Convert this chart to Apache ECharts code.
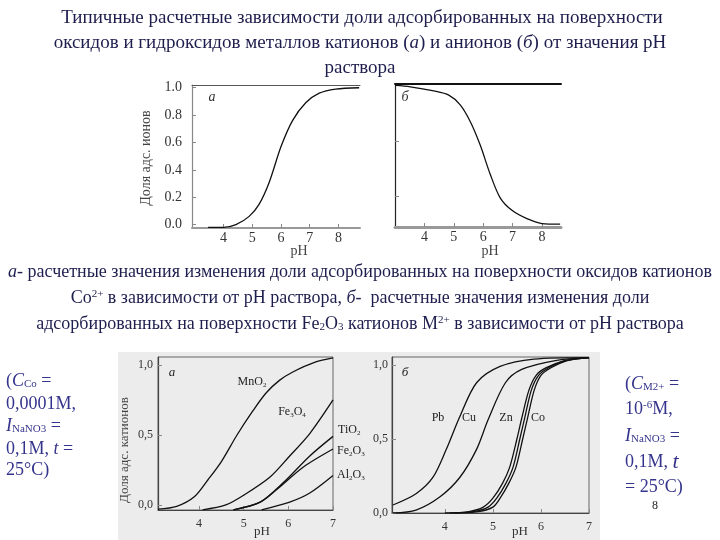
<!DOCTYPE html>
<html><head><meta charset="utf-8">
<script src="https://cdn.jsdelivr.net/npm/echarts@6/dist/echarts.min.js"></script>
<style>html,body{margin:0;padding:0;background:#fff}#c{width:720px;height:540px}</style>
</head><body><div id="c"></div>
<script>
// ---- data ----
const xTicksTop = [4, 5, 6, 7, 8];
const yTicksTop = [0, 0.2, 0.4, 0.6, 0.8, 1.0];
const xTicksBot = [4, 5, 6, 7];
const yTicksBot = [0, 0.5, 1.0];

const aPH   = [3.46, 4.0, 4.43, 4.89, 5.24, 5.59, 6.0, 6.4, 6.86, 7.33, 7.9, 8.72];
const aFrac = [-0.02, -0.02, 0.0, 0.06, 0.15, 0.31, 0.57, 0.76, 0.89, 0.96, 0.99, 1.0];

const bPH   = [3.01, 3.52, 4.32, 4.83, 5.22, 5.56, 5.9, 6.24, 6.58, 6.98, 7.49, 8.0, 8.62];
const bFrac = [1.0, 0.99, 0.96, 0.93, 0.86, 0.74, 0.57, 0.36, 0.19, 0.10, 0.04, 0.005, 0.0];

const mno2PH   = [3.08, 3.5, 3.9, 4.2, 4.5, 4.85, 5.2, 5.5, 5.8, 6.1, 6.6, 7.0];
const mno2Frac = [-0.03, -0.01, 0.06, 0.18, 0.31, 0.50, 0.67, 0.80, 0.89, 0.95, 1.02, 1.05];
const fe3o4PH   = [4.08, 4.6, 5.0, 5.59, 6.03, 6.48, 7.0];
const fe3o4Frac = [-0.035, 0.0, 0.07, 0.20, 0.35, 0.51, 0.75];
const tio2PH   = [4.77, 5.37, 5.89, 6.48, 7.0];
const tio2Frac = [-0.035, 0.02, 0.16, 0.35, 0.49];
const fe2o3PH   = [4.77, 5.37, 5.74, 6.33, 7.0];
const fe2o3Frac = [-0.035, 0.02, 0.11, 0.27, 0.40];
const al2o3PH   = [5.4, 6.03, 6.48, 7.0];
const al2o3Frac = [-0.035, 0.02, 0.085, 0.21];

const pbPH   = [2.92, 3.4, 3.75, 4.03, 4.31, 4.66, 5.15, 5.85, 7.0];
const pbFrac = [0.054, 0.13, 0.24, 0.43, 0.65, 0.88, 0.99, 1.04, 1.05];
const cuPH   = [2.92, 3.4, 3.9, 4.31, 4.66, 4.9, 5.26, 5.6, 6.3, 7.0];
const cuFrac = [0.0, 0.02, 0.11, 0.24, 0.43, 0.63, 0.88, 0.97, 1.03, 1.05];
const znPH   = [4.0, 4.5, 4.8, 5.0, 5.2, 5.35, 5.5, 5.6, 5.75, 5.9, 6.1, 6.5, 7.0];
const znFrac = [0.0, 0.01, 0.04, 0.10, 0.20, 0.31, 0.50, 0.64, 0.83, 0.93, 0.98, 1.03, 1.05];
const midPH  = [4.1, 4.6, 4.9, 5.08, 5.27, 5.42, 5.56, 5.66, 5.8, 5.95, 6.15, 6.5, 7.0];
const midFrac= [0.0, 0.01, 0.04, 0.10, 0.20, 0.31, 0.50, 0.64, 0.83, 0.93, 0.98, 1.03, 1.05];
const coPH   = [4.2, 4.7, 5.0, 5.15, 5.33, 5.48, 5.62, 5.72, 5.86, 6.0, 6.2, 6.55, 7.0];
const coFrac = [0.0, 0.01, 0.04, 0.10, 0.20, 0.31, 0.50, 0.64, 0.83, 0.93, 0.98, 1.03, 1.05];

// ---- helpers ----
const zip = (xs, ys) => xs.map((x, i) => [x, ys[i]]);
const SERIF = '"Liberation Serif", "Times New Roman", serif';
const NAVY = '#1e1e4e';
const BLUE = '#34348c';

function line(name, xs, ys, gi, w) {
  return { name, type: 'line', xAxisIndex: gi, yAxisIndex: gi, data: zip(xs, ys),
    smooth: 0.3, showSymbol: false, silent: true,
    lineStyle: { color: '#111', width: w || 1.3 }, clip: true };
}
function xAx(gi, min, max, ticks, fs, margin, lineColor, lw) {
  return { type: 'value', gridIndex: gi, min, max,
    axisLine: { show: true, onZero: false, lineStyle: { color: lineColor, width: lw } },
    axisTick: { show: true, inside: true, length: 4, customValues: ticks, lineStyle: { color: '#888' } },
    axisLabel: { customValues: ticks, fontFamily: SERIF, fontSize: fs, color: '#333', margin },
    splitLine: { show: false } };
}
function topAx(gi, min, max, color, w) {
  return { type: 'value', gridIndex: gi, position: 'top', min, max,
    axisLine: { show: true, onZero: false, lineStyle: { color, width: w } },
    axisTick: { show: false }, axisLabel: { show: false }, splitLine: { show: false } };
}
function yAx(gi, min, max, ticks, fs, margin, fmt, lineColor, show) {
  return { type: 'value', gridIndex: gi, min, max,
    axisLine: { show: true, onZero: false, lineStyle: { color: lineColor, width: 1.2 } },
    axisTick: { show: true, inside: true, length: 4, customValues: ticks, lineStyle: { color: '#888' } },
    axisLabel: { show: show, customValues: ticks, fontFamily: SERIF, fontSize: fs, color: '#333', margin, formatter: fmt },
    splitLine: { show: false } };
}
function txt(x, y, text, opts) {
  return Object.assign({ type: 'text', x, y, silent: true,
    style: Object.assign({ text, fontFamily: SERIF, fontSize: 12, fill: '#222',
      align: 'left', verticalAlign: 'middle' }, opts || {}) });
}
const richBase = (fs, color) => ({
  i: { fontStyle: 'italic', fontFamily: SERIF, fontSize: fs, fill: color },
  sub: { fontFamily: SERIF, fontSize: Math.round(fs * 0.62), fill: color, verticalAlign: 'bottom', padding: [6, 0, 0, 0] },
  sup: { fontFamily: SERIF, fontSize: Math.round(fs * 0.62), fill: color, verticalAlign: 'top', padding: [0, 0, 6, 0] },
  bi: { fontStyle: 'italic', fontFamily: SERIF, fontSize: fs + 4, fill: color }
});

const chart = echarts.init(document.getElementById('c'));
const option = {
  animation: false,
  backgroundColor: '#ffffff',
  grid: [
    { left: 192, top: 85, width: 168, height: 143 },
    { left: 395, top: 84, width: 166, height: 143 },
    { left: 158, top: 357, width: 175, height: 153, show: true, borderColor: '#666', borderWidth: 1, backgroundColor: 'transparent' },
    { left: 392, top: 357, width: 197, height: 156, show: true, borderColor: '#666', borderWidth: 1, backgroundColor: 'transparent' }
  ],
  xAxis: [
    xAx(0, 2.9, 8.75, xTicksTop, 14, 3, '#999', 2),
    xAx(1, 3.0, 8.65, xTicksTop, 14, 3, '#999', 3),
    xAx(2, 3.08, 7.0, xTicksBot, 12, 8, '#444', 1),
    xAx(3, 2.9, 7.0, xTicksBot, 12, 8, '#444', 1),
    topAx(0, 2.9, 8.75, '#555', 1),
    topAx(1, 3.0, 8.65, '#111', 2)
  ],
  yAxis: [
    yAx(0, -0.025, 1.02, yTicksTop, 14, 10, v => v.toFixed(1), '#888', true),
    yAx(1, -0.02, 1.01, [0.2, 0.6], 14, 10, v => v.toFixed(1), '#222', false),
    yAx(2, -0.036, 1.057, yTicksBot, 12, 5, v => v.toFixed(1).replace('.', ','), '#444', true),
    yAx(3, 0, 1.054, yTicksBot, 12, 4, v => v.toFixed(1).replace('.', ','), '#444', true)
  ],
  series: [
    line('a', aPH, aFrac, 0),
    line('b', bPH, bFrac, 1),
    line('MnO2', mno2PH, mno2Frac, 2),
    line('Fe3O4', fe3o4PH, fe3o4Frac, 2),
    line('TiO2', tio2PH, tio2Frac, 2),
    line('Fe2O3', fe2o3PH, fe2o3Frac, 2),
    line('Al2O3', al2o3PH, al2o3Frac, 2),
    line('Pb', pbPH, pbFrac, 3),
    line('Cu', cuPH, cuFrac, 3),
    line('Zn', znPH, znFrac, 3),
    line('M', midPH, midFrac, 3),
    line('Co', coPH, coFrac, 3)
  ],
  graphic: [
    { type: 'rect', z: -10, silent: true, shape: { x: 118, y: 352, width: 482, height: 188 }, style: { fill: '#ececec' } },
    // title
    txt(362, 18, 'Типичные расчетные зависимости доли адсорбированных на поверхности', { align: 'center', fontSize: 19, fill: NAVY }),
    txt(360, 43, 'оксидов и гидроксидов металлов катионов ({i|а}) и анионов ({i|б}) от значения pH', { align: 'center', fontSize: 19, fill: NAVY, rich: richBase(19, NAVY) }),
    txt(360, 68, 'раствора', { align: 'center', fontSize: 19, fill: NAVY }),
    // caption
    txt(360, 272, '{i|а}- расчетные значения изменения доли адсорбированных на поверхности оксидов катионов', { align: 'center', fontSize: 18, fill: NAVY, rich: richBase(18, NAVY) }),
    txt(360, 298, 'Co{sup|2+} в зависимости от pH раствора, {i|б}-  расчетные значения изменения доли', { align: 'center', fontSize: 18, fill: NAVY, rich: richBase(18, NAVY) }),
    txt(360, 324, 'адсорбированных на поверхности Fe{sub|2}O{sub|3} катионов M{sup|2+} в зависимости от pH раствора', { align: 'center', fontSize: 18, fill: NAVY, rich: richBase(18, NAVY) }),
    // left notes
    txt(6, 381, '({i|C}{sub|Co} =', { fontSize: 18, fill: BLUE, rich: richBase(18, BLUE) }),
    txt(6, 404, '0,0001M,', { fontSize: 18, fill: BLUE }),
    txt(6, 426, '{i|I}{sub|NaNO3} =', { fontSize: 18, fill: BLUE, rich: richBase(18, BLUE) }),
    txt(6, 449, '0,1M, {i|t} =', { fontSize: 18, fill: BLUE, rich: richBase(18, BLUE) }),
    txt(6, 470, '25°C)', { fontSize: 18, fill: BLUE }),
    // right notes
    txt(625, 384, '({i|C}{sub|M2+} =', { fontSize: 18, fill: BLUE, rich: richBase(18, BLUE) }),
    txt(625, 409, '10{sup|-6}M,', { fontSize: 18, fill: BLUE, rich: richBase(18, BLUE) }),
    txt(625, 436, '{i|I}{sub|NaNO3} =', { fontSize: 18, fill: BLUE, rich: richBase(18, BLUE) }),
    txt(625, 462, '0,1M, {bi|t}', { fontSize: 18, fill: BLUE, rich: richBase(18, BLUE) }),
    txt(625, 487, '= 25°C)', { fontSize: 18, fill: BLUE }),
    txt(655, 506, '8', { fontSize: 12, fill: '#222', align: 'center' }),
    // axis names
    { type: 'text', x: 146, y: 158, rotation: Math.PI / 2, silent: true, style: { text: 'Доля адс. ионов', fontFamily: SERIF, fontSize: 14, fill: '#444', align: 'center', verticalAlign: 'middle' } },
    { type: 'text', x: 125, y: 450, rotation: Math.PI / 2, silent: true, style: { text: 'Доля адс. катионов', fontFamily: SERIF, fontSize: 13, fill: '#444', align: 'center', verticalAlign: 'middle' } },
    txt(299, 251, 'pH', { fontSize: 14, fill: '#444', align: 'center' }),
    txt(490, 251, 'pH', { fontSize: 14, fill: '#444', align: 'center' }),
    txt(262, 532, 'pH', { fontSize: 13, fill: '#333', align: 'center' }),
    txt(520, 532, 'pH', { fontSize: 13, fill: '#333', align: 'center' }),
    // panel letters
    txt(212, 97, 'а', { fontSize: 14, fontStyle: 'italic', fill: '#333', align: 'center' }),
    txt(405, 97, 'б', { fontSize: 14, fontStyle: 'italic', fill: '#333', align: 'center' }),
    txt(172, 373, 'а', { fontSize: 13, fontStyle: 'italic', fill: '#222', align: 'center' }),
    txt(405, 373, 'б', { fontSize: 13, fontStyle: 'italic', fill: '#222', align: 'center' }),
    // curve labels bottom-left
    txt(252, 382, 'MnO{sub|2}', { fontSize: 12, align: 'center', rich: richBase(12, '#222') }),
    txt(292, 412, 'Fe{sub|3}O{sub|4}', { fontSize: 12, align: 'center', rich: richBase(12, '#222') }),
    txt(338, 430, 'TiO{sub|2}', { fontSize: 12, rich: richBase(12, '#222') }),
    txt(337, 451, 'Fe{sub|2}O{sub|3}', { fontSize: 12, rich: richBase(12, '#222') }),
    txt(337, 475, 'Al{sub|2}O{sub|3}', { fontSize: 12, rich: richBase(12, '#222') }),
    // curve labels bottom-right
    txt(438, 418, 'Pb', { fontSize: 12, align: 'center' }),
    txt(469, 418, 'Cu', { fontSize: 12, align: 'center' }),
    txt(506, 418, 'Zn', { fontSize: 12, align: 'center' }),
    txt(538, 418, 'Co', { fontSize: 12, align: 'center' })
  ]
};
chart.setOption(option);
</script>
</body></html>
